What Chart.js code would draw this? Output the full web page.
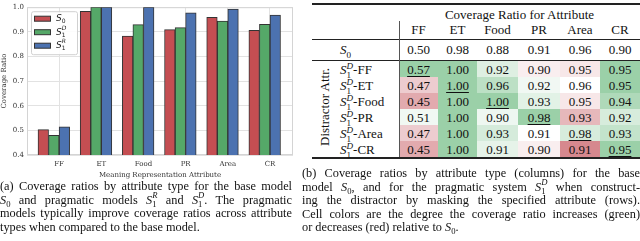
<!DOCTYPE html>
<html>
<head>
<meta charset="utf-8">
<script src="https://cdn.jsdelivr.net/npm/chart.js@4.4.1/dist/chart.umd.min.js"></script>
<style>
html, body { margin: 0; padding: 0; background: #fff; }
#page { position: relative; width: 640px; height: 241px; overflow: hidden; font-family: "Liberation Serif", "DejaVu Serif", serif; color: #111; }
#chartBox { position: absolute; left: 0; top: 0; width: 300px; height: 182px; }
.cap { position: absolute; font-size: 12.3px; line-height: 13.5px; }
.cap .j { text-align: justify; text-align-last: justify; }
#capA { left: 0; top: 180px; width: 292px; }
#capB { left: 302px; top: 167px; width: 338px; }
sub, sup { font-size: 0.7em; line-height: 0; }
sup.o { margin-left: -0.5em; }
#tbl { position: absolute; left: 312px; top: 3px; width: 328px; display: grid;
  grid-template-columns: 25px 62px 39px 39px 41px 42px 40px 40px;
  grid-template-rows: 2px 16px 18px 1px 20px 1px repeat(6, 16px) 2px;
  font-size: 13px; }
#tbl .c { display: flex; align-items: center; justify-content: center; white-space: nowrap; }
#tbl .l { justify-content: flex-start; padding-left: 3px; }
#tbl .rule { background: #222; }
#tbl .u span { text-decoration: underline; text-underline-offset: 2px; }
#vline { position: absolute; left: 399px; top: 21px; width: 1px; height: 136px; background: #555; }
#rot { writing-mode: vertical-rl; transform: rotate(180deg); }
</style>
</head>
<body>
<div id="page">
  <div id="chartBox"><canvas id="chart" width="300" height="182"></canvas></div>
  <div id="tbl"></div>
  <div id="vline"></div>
  <div class="cap" id="capA">
    <div class="j">(a) Coverage ratios by attribute type for the base model</div>
    <div class="j"><i>S</i><sub>0</sub> and pragmatic models <i>S</i><sub>1</sub><sup class="o"><i>R</i></sup> and <i>S</i><sub>1</sub><sup class="o"><i>D</i></sup>. The pragmatic</div>
    <div class="j">models typically improve coverage ratios across attribute</div>
    <div>types when compared to the base model.</div>
  </div>
  <div class="cap" id="capB">
    <div class="j">(b) Coverage ratios by attribute type (columns) for the base</div>
    <div class="j">model <i>S</i><sub>0</sub>, and for the pragmatic system <i>S</i><sub>1</sub><sup class="o"><i>D</i></sup> when construct-</div>
    <div class="j">ing the distractor by masking the specified attribute (rows).</div>
    <div class="j">Cell colors are the degree the coverage ratio increases (green)</div>
    <div>or decreases (red) relative to <i>S</i><sub>0</sub>.</div>
  </div>
</div>
<script>
// bar chart data
const categories = ['FF', 'ET', 'Food', 'PR', 'Area', 'CR'];
const s0 = [0.503, 0.983, 0.883, 0.909, 0.959, 0.906];
const s1D = [0.480, 1.000, 0.929, 0.917, 0.944, 0.930];
const s1R = [0.514, 1.000, 1.000, 0.977, 0.992, 0.968];
const seriesLabels = ['S_0', 'S_1^D', 'S_1^R'];
const yTicks = [0.4, 0.5, 0.6, 0.7, 0.8, 0.9, 1.0];

// table data
const tableS0 = [0.50, 0.98, 0.88, 0.91, 0.96, 0.90];
const distractors = ['FF', 'ET', 'Food', 'PR', 'Area', 'CR'];
const rowFF = [0.57, 1.00, 0.92, 0.90, 0.95, 0.95];
const rowET = [0.47, 1.00, 0.96, 0.92, 0.96, 0.95];
const rowFood = [0.45, 1.00, 1.00, 0.93, 0.95, 0.94];
const rowPR = [0.51, 1.00, 0.90, 0.98, 0.93, 0.92];
const rowArea = [0.47, 1.00, 0.93, 0.91, 0.98, 0.93];
const rowCR = [0.45, 1.00, 0.91, 0.90, 0.91, 0.95];
const tableRows = [rowFF, rowET, rowFood, rowPR, rowArea, rowCR];

const toPoints = arr => arr.map((v, i) => ({ x: i, y: v }));

// frame around plot area (seaborn style)
const framePlugin = {
  id: 'frame',
  beforeDatasetsDraw(chart) {
    const a = chart.chartArea, ctx = chart.ctx;
    ctx.save();
    ctx.strokeStyle = '#d4d4d4';
    ctx.lineWidth = 1;
    ctx.strokeRect(a.left + 0.5, a.top + 0.5, a.right - a.left - 1, a.bottom - a.top - 1);
    ctx.restore();
  }
};

// legend with sub/superscripts
const mathLegend = {
  id: 'mathLegend',
  afterDatasetsDraw(chart) {
    const a = chart.chartArea, ctx = chart.ctx;
    const x0 = a.left + 4, y0 = a.top + 4;
    ctx.save();
    ctx.fillStyle = 'rgba(255,255,255,0.9)';
    ctx.strokeStyle = '#d0d0d0';
    ctx.lineWidth = 1;
    ctx.beginPath();
    ctx.roundRect(x0 + 0.5, y0 + 0.5, 46, 43, 2);
    ctx.fill();
    ctx.stroke();
    chart.data.datasets.forEach((ds, i) => {
      if (!ds.label) return;
      const y = y0 + 7.5 + i * 13.5;
      ctx.fillStyle = ds.backgroundColor;
      ctx.fillRect(x0 + 3, y - 2.5, 16, 5);
      ctx.strokeStyle = '#333';
      ctx.strokeRect(x0 + 3.5, y - 2.5, 16, 5);
      const m = ds.label.match(/^(\w)_(\w)(?:\^(\w))?$/);
      ctx.fillStyle = '#222';
      ctx.textBaseline = 'middle';
      ctx.font = 'italic 9px "DejaVu Sans"';
      const tx = x0 + 25;
      ctx.fillText(m[1], tx, y);
      const w = ctx.measureText(m[1]).width;
      ctx.font = '6px "DejaVu Sans"';
      ctx.fillText(m[2], tx + w, y + 3);
      if (m[3]) {
        ctx.font = 'italic 6px "DejaVu Sans"';
        ctx.fillText(m[3], tx + w, y - 4);
      }
    });
    ctx.restore();
  }
};

const tickFont = { family: 'DejaVu Serif', size: 7 };

new Chart(document.getElementById('chart'), {
  type: 'bar',
  data: {
    datasets: [
      { label: seriesLabels[0], data: toPoints(s0), backgroundColor: '#c44e52' },
      { label: seriesLabels[1], data: toPoints(s1D), backgroundColor: '#55a868' },
      { label: seriesLabels[2], data: toPoints(s1R), backgroundColor: '#4c72b0' },
      { label: '', data: categories.map((c, i) => ({ x: i, y: null })) }
    ]
  },
  options: {
    responsive: false,
    animation: false,
    layout: { padding: { left: 0, right: 7, top: 3, bottom: 0 } },
    datasets: { bar: { categoryPercentage: 1, barPercentage: 1, borderColor: '#333', borderWidth: 1 } },
    plugins: { legend: { display: false }, tooltip: { enabled: false } },
    scales: {
      x: {
        type: 'linear',
        min: -0.761,
        max: 5.546,
        offset: false,
        afterBuildTicks: s => { s.ticks = categories.map((c, i) => ({ value: i })); },
        afterFit: s => { s.height = 27; },
        ticks: { callback: v => categories[v], font: tickFont, color: '#333', padding: 5, autoSkip: false, maxRotation: 0 },
        grid: { color: '#e2e2e2', offset: false, drawTicks: false },
        border: { display: false },
        title: { display: true, text: 'Meaning Representation Attribute', font: tickFont, color: '#333', padding: { top: 0, bottom: 3 } }
      },
      y: {
        min: 0.4,
        max: 1.0,
        afterBuildTicks: s => { s.ticks = yTicks.map(v => ({ value: v })); },
        afterFit: s => { s.width = 27; },
        ticks: { callback: v => v.toFixed(1), font: tickFont, color: '#333', padding: 3 },
        grid: { color: '#e2e2e2', drawTicks: false },
        border: { display: false },
        title: { display: true, text: 'Coverage Ratio', font: tickFont, color: '#333', padding: { top: 0, bottom: 0 } }
      }
    }
  },
  plugins: [framePlugin, mathLegend]
});

// table
const tbl = document.getElementById('tbl');
function addCell(html, row, col, cls, style) {
  const d = document.createElement('div');
  d.className = 'c ' + (cls || '');
  d.innerHTML = `<span>${html}</span>`;
  d.style.gridRow = row;
  d.style.gridColumn = col;
  if (style) Object.assign(d.style, style);
  tbl.appendChild(d);
  return d;
}
function rule(row) {
  const d = document.createElement('div');
  d.className = 'rule';
  d.style.gridRow = row;
  d.style.gridColumn = '1 / -1';
  tbl.appendChild(d);
}
function cellColor(v, base, maxAbs) {
  const d = v - base;
  const t = maxAbs ? Math.min(1, Math.abs(d) / maxAbs) : 0;
  const c = d >= 0 ? [155, 208, 168] : [214, 136, 142];
  const mix = c.map(k => Math.round(255 + (k - 255) * t));
  return `rgb(${mix.join(',')})`;
}

rule(1); rule(4); rule(6); rule(13);
addCell('Coverage Ratio for Attribute', 2, '3 / 9', '', { paddingTop: '3px' });
categories.forEach((c, j) => addCell(c, 3, j + 3, '', { alignItems: 'flex-start', paddingTop: '1px' }));
addCell('<i>S</i><sub>0</sub>', 5, 2, 'l');
tableS0.forEach((v, j) => addCell(v.toFixed(2), 5, j + 3));
addCell('<span id="rot">Distractor Attr.</span>', '7 / 13', 1);
tableRows.forEach((row, i) => {
  addCell(`<i>S</i><sub>1</sub><sup class="o"><i>D</i></sup>-${distractors[i]}`, 7 + i, 2, 'l', { paddingTop: '2px' });
  row.forEach((v, j) => {
    const colVals = tableRows.map(r => r[j]);
    const maxAbs = Math.max(...colVals.map(x => Math.abs(x - tableS0[j])));
    addCell(v.toFixed(2), 7 + i, j + 3, i === j ? 'u' : '',
      { background: cellColor(v, tableS0[j], maxAbs), paddingTop: '2px' });
  });
});
</script>
</body>
</html>
